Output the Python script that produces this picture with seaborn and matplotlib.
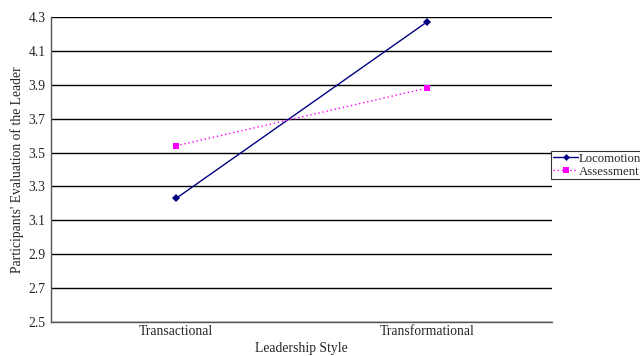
import matplotlib
matplotlib.use("Agg")
import matplotlib.pyplot as plt
import seaborn as sns
import pandas as pd

# Data
styles = ["Transactional", "Transformational"]
locomotion = [3.23, 4.27]
assessment = [3.54, 3.88]
y_ticks = [2.5, 2.7, 2.9, 3.1, 3.3, 3.5, 3.7, 3.9, 4.1, 4.3]

df = pd.DataFrame({
    "style": styles * 2,
    "pos": [0.5, 1.5] * 2,
    "value": locomotion + assessment,
    "group": ["Locomotion"] * 2 + ["Assessment"] * 2,
})

sns.set_style("white")
plt.rcParams["font.family"] = ["Liberation Serif", "DejaVu Serif"]
FS = 9.8

fig = plt.figure(figsize=(6.4, 3.56), dpi=100)
ax = fig.add_axes([51 / 640, 1 - 322 / 356, 501 / 640, 305 / 356])

palette = {"Locomotion": "#000080", "Assessment": "#FF00FF"}
sns.lineplot(data=df, x="pos", y="value", hue="group", style="group",
             palette=palette, markers={"Locomotion": "D", "Assessment": "s"},
             dashes={"Locomotion": "", "Assessment": (1, 2)},
             markersize=4, markeredgewidth=0, linewidth=1, ax=ax, legend=False)

ax.set_xlim(0, 2)
ax.set_ylim(2.5, 4.3)
ax.set_yticks(y_ticks)
ax.set_yticklabels([f"{v:.1f}" for v in y_ticks], fontsize=FS)
ax.set_xticks([0, 1, 2])
ax.set_xticklabels([])
ax.set_xticks([0.5, 1.5], minor=True)
ax.set_xticklabels(styles, minor=True, fontsize=FS)
ax.tick_params(axis="x", which="minor", length=0, pad=2)
ax.tick_params(axis="x", which="major", length=3, width=0.8, color="black", direction="out")
ax.tick_params(axis="y", length=3, width=0.8, color="black", direction="out", pad=1)
for v in y_ticks:
    ax.axhline(v, color="black", linewidth=1, zorder=0)

for side in ["top", "right"]:
    ax.spines[side].set_visible(False)
for side in ["left", "bottom"]:
    ax.spines[side].set_color("#555555")
    ax.spines[side].set_linewidth(1)

ax.set_xlabel("Leadership Style", fontsize=FS, labelpad=3)
ax.set_ylabel("Participants' Evaluation of the Leader", fontsize=FS, labelpad=3)

handles = [
    plt.Line2D([], [], color="#000080", marker="D", markersize=3.5, markeredgewidth=0, linewidth=1),
    plt.Line2D([], [], color="#FF00FF", marker="s", markersize=4, markeredgewidth=0,
               linewidth=1, linestyle=(0, (1, 2))),
]
leg = fig.legend(handles, ["Locomotion", "Assessment"], loc="upper left",
                 bbox_to_anchor=(551 / 640, 1 - 151 / 356), fontsize=9.2,
                 frameon=True, fancybox=False, borderpad=0.15, handlelength=2.0,
                 handletextpad=0.05, labelspacing=0.05, borderaxespad=0)
leg.get_frame().set_edgecolor("black")
leg.get_frame().set_linewidth(0.8)

fig.savefig("out.png", dpi=100)
